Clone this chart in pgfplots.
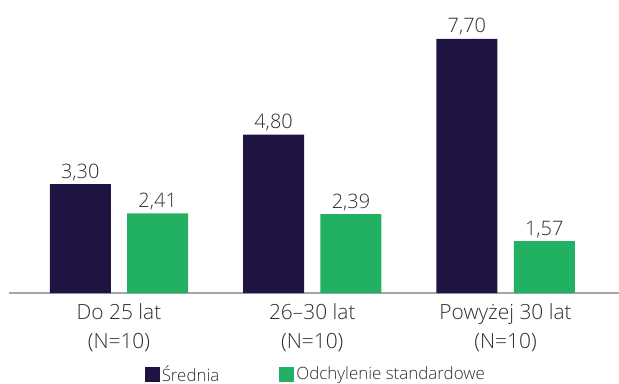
\documentclass[border=0pt]{standalone}
\usepackage{pgfplots}
\pgfplotsset{compat=1.18}
\usepackage{fontspec}
\setmainfont{Open Sans}[UprightFont={* Light}]

\definecolor{navy}{RGB}{31,20,65}
\definecolor{bargreen}{RGB}{34,177,99}
\definecolor{txt}{RGB}{45,45,45}
\definecolor{axisgray}{RGB}{165,165,165}

\begin{document}
\begin{tikzpicture}
\path[use as bounding box] (-9bp,-91bp) rectangle (610bp,293bp);
\begin{axis}[
  at={(0bp,0bp)}, anchor=south west,
  scale only axis, width=610bp, height=293bp,
  xmin=-0.569, xmax=2.587, ymin=0, ymax=8.88,
  axis x line=bottom, hide y axis,
  x axis line style={-, draw=axisgray, line width=1.2bp},
  ybar, bar width=61bp,
  xtick={0,1,2}, major tick length=0,
  xticklabels={{Do 25 lat\\(N=10)},{26–30 lat\\(N=10)},{Powyżej 30 lat\\(N=10)}},
  xticklabel style={align=center, text=txt, font=\fontsize{21}{29}\selectfont, inner sep=0pt, yshift=-10.5bp},
  nodes near coords,
  every node near coord/.append style={text=txt, font=\fontsize{20}{23}\selectfont},
  /pgf/number format/.cd, fixed, fixed zerofill, precision=2, use comma, assume math mode=true,
  /pgfplots/.cd,
  legend style={at={(0.503,-0.277)}, anchor=center, draw=none, fill=none,
    legend columns=2, text=txt, font=\fontsize{17}{19}\selectfont,
    /tikz/every even column/.append style={column sep=58bp}},
  legend image code/.code={\fill[#1, draw=none] (-2bp,-7.5bp) rectangle (13bp,7.5bp);},
]
\addplot[fill=navy, draw=none, bar shift=-38.7bp] coordinates {(0,3.30) (1,4.80) (2,7.70)};
\addplot[fill=bargreen, draw=none, bar shift=38.7bp] coordinates {(0,2.41) (1,2.39) (2,1.57)};
\legend{Średnia, Odchylenie standardowe}
\end{axis}
\end{tikzpicture}
\end{document}
